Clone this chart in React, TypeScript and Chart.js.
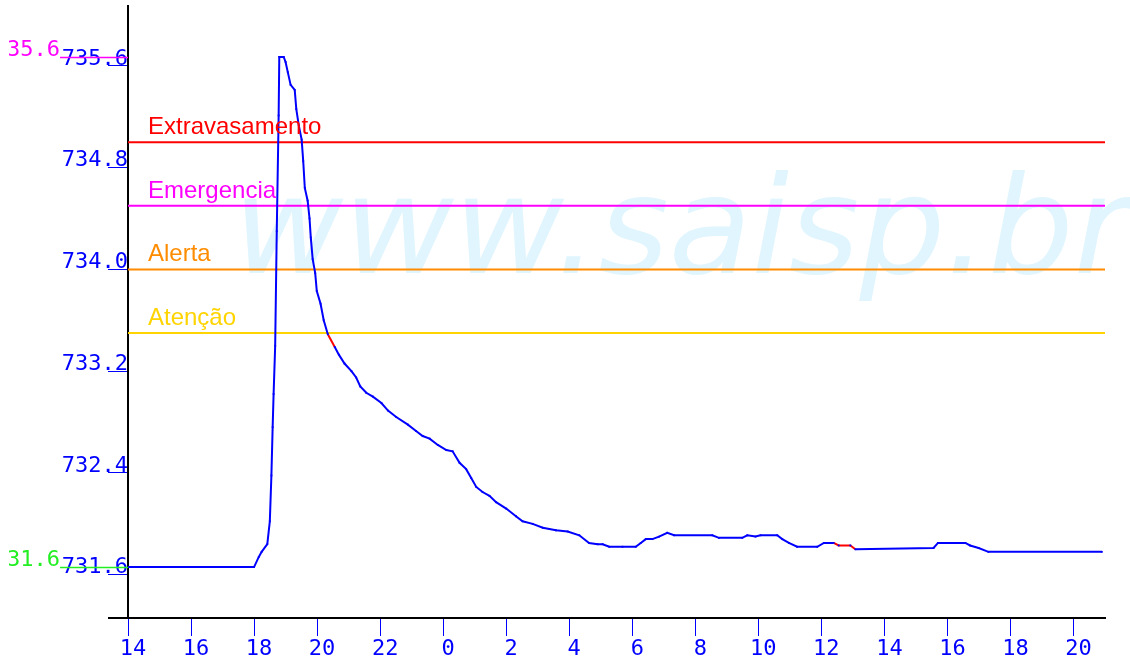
import React, { useEffect, useRef } from "react";
import { Chart, registerables } from "chart.js";

Chart.register(...registerables);

// Time in hours since 00:00 of the first day (24+ = next day)
const hours = [
  14.0, 15.0, 16.0, 17.0, 18.0, 18.15, 18.24, 18.42, 18.5, 18.55, 18.59, 18.62, 18.67, 18.72, 18.78, 18.8,
  18.94, 19.0, 19.07, 19.16, 19.29, 19.34, 19.42, 19.51, 19.56, 19.61, 19.7, 19.76, 19.8, 19.86, 19.94,
  19.99, 20.11, 20.21, 20.34, 20.56, 20.69, 20.87, 21.09, 21.24, 21.37, 21.56, 21.77, 22.04, 22.25, 22.51,
  22.88, 23.14, 23.35, 23.57, 23.83, 24.1, 24.3, 24.52, 24.73, 24.89, 25.05, 25.25, 25.47, 25.68, 26.0,
  26.31, 26.52, 26.84, 27.16, 27.58, 27.95, 28.32, 28.63, 28.9, 29.06, 29.27, 29.69, 30.11, 30.27, 30.43,
  30.64, 30.85, 31.11, 31.33, 32.54, 32.75, 33.49, 33.65, 33.91, 34.07, 34.6, 34.76, 34.97, 35.23, 35.87,
  36.08, 36.39, 36.55, 36.92, 37.08, 39.56, 39.7, 40.57, 40.72, 40.99, 41.3, 44.9,
];

const levels = [
  731.66, 731.66, 731.66, 731.66, 731.66, 731.74, 731.78, 731.84, 732.02, 732.38, 732.76, 733.02, 733.4,
  734.3, 735.21, 735.67, 735.67, 735.63, 735.55, 735.45, 735.41, 735.26, 735.13, 735.02, 734.85, 734.64,
  734.54, 734.4, 734.25, 734.08, 733.97, 733.83, 733.73, 733.6, 733.49, 733.39, 733.33, 733.26, 733.2,
  733.15, 733.08, 733.03, 733.0, 732.95, 732.89, 732.84, 732.78, 732.73, 732.69, 732.67, 732.62, 732.58,
  732.57, 732.48, 732.43, 732.36, 732.29, 732.25, 732.22, 732.17, 732.12, 732.06, 732.02, 732.0, 731.97,
  731.95, 731.94, 731.91, 731.85, 731.84, 731.84, 731.82, 731.82, 731.82, 731.85, 731.88, 731.88, 731.9,
  731.93, 731.91, 731.91, 731.89, 731.89, 731.91, 731.9, 731.91, 731.91, 731.88, 731.85, 731.82, 731.82,
  731.85, 731.85, 731.83, 731.83, 731.8, 731.81, 731.85, 731.85, 731.83, 731.81, 731.78, 731.78,
];

// Stretches drawn in red (estimated data)
const estimatedRanges = [
  [20.34, 20.56],
  [36.39, 37.08],
];

const thresholdNames = ["Extravasamento", "Emergencia", "Alerta", "Atenção"];
const thresholdValues = [735.0, 734.5, 734.0, 733.5];
const thresholdColors = ["#ff0000", "#ff00ff", "#ff8c00", "#ffd400"];

const yTickValues = [731.6, 732.4, 733.2, 734.0, 734.8, 735.6];
const xTickHours = [14, 16, 18, 20, 22, 24, 26, 28, 30, 32, 34, 36, 38, 40, 42, 44];
const xStart = 14;
const xEnd = 45;
const watermark = "www.saisp.br";

const BLUE = "#0000ff";
const MONO = "'DejaVu Sans Mono', monospace";

const levelMax = Math.max(...levels);
const levelMin = Math.min(...levels);
const trunc1 = (v: number) => (Math.floor(v * 10 + 1e-6) / 10).toFixed(1);

const overlay = {
  id: "overlay",
  beforeDatasetsDraw(chart: any) {
    const { ctx, chartArea } = chart;
    ctx.save();
    ctx.font = "italic 135px 'DejaVu Sans'";
    ctx.fillStyle = "rgb(224,245,253)";
    ctx.textBaseline = "alphabetic";
    ctx.textAlign = "left";
    ctx.fillText(watermark, chartArea.left + 105, 273);
    ctx.restore();
  },
  afterDatasetsDraw(chart: any) {
    const { ctx, chartArea, scales } = chart;
    ctx.save();
    ctx.font = "24px 'Liberation Sans'";
    ctx.textBaseline = "alphabetic";
    ctx.textAlign = "left";
    thresholdNames.forEach((name, i) => {
      const y = scales.y.getPixelForValue(thresholdValues[i]);
      ctx.fillStyle = thresholdColors[i];
      ctx.fillText(name, chartArea.left + 20, y - 8);
    });
    ctx.restore();
  },
  afterDraw(chart: any) {
    const { ctx, chartArea, scales } = chart;
    ctx.save();
    // x-axis line extension to the left of the y axis
    ctx.strokeStyle = "#000";
    ctx.lineWidth = 2;
    ctx.beginPath();
    ctx.moveTo(chartArea.left - 20, chartArea.bottom);
    ctx.lineTo(chartArea.left, chartArea.bottom);
    ctx.stroke();
    // max / min markers
    const marks = [
      { v: levelMax, color: "#ff00ff" },
      { v: levelMin, color: "#22ee22" },
    ];
    ctx.font = `22px ${MONO}`;
    ctx.textAlign = "right";
    ctx.textBaseline = "alphabetic";
    marks.forEach((m) => {
      const y = Math.round(scales.y.getPixelForValue(m.v)) + 0.5;
      ctx.strokeStyle = m.color;
      ctx.lineWidth = 1.5;
      ctx.beginPath();
      ctx.moveTo(chartArea.left - 68, y);
      ctx.lineTo(chartArea.left, y);
      ctx.stroke();
      ctx.save();
      ctx.beginPath();
      ctx.rect(9, y - 40, chartArea.left, 50);
      ctx.clip();
      ctx.fillStyle = m.color;
      ctx.fillText(trunc1(m.v), chartArea.left - 68, y - 2);
      ctx.restore();
    });
    ctx.restore();
  },
};

export default function App() {
  const ref = useRef<HTMLCanvasElement>(null);

  useEffect(() => {
    const isEstimated = (a: number, b: number) =>
      estimatedRanges.some(([s, e]) => a >= s - 1e-6 && b <= e + 1e-6);

    const datasets: any[] = [
      {
        label: "Nível",
        data: hours.map((h, i) => ({ x: h, y: levels[i] })),
        borderColor: BLUE,
        backgroundColor: BLUE,
        borderWidth: 2,
        pointRadius: 1.3,
        pointStyle: "rect",
        pointBorderWidth: 0,
        pointBackgroundColor: BLUE,
        tension: 0,
        segment: {
          borderColor: (c: any) => (isEstimated(c.p0.parsed.x, c.p1.parsed.x) ? "#ff0000" : undefined),
        },
      },
      ...thresholdNames.map((name, i) => ({
        label: name,
        data: [
          { x: xStart, y: thresholdValues[i] },
          { x: xEnd, y: thresholdValues[i] },
        ],
        borderColor: thresholdColors[i],
        borderWidth: 2,
        pointRadius: 0,
      })),
    ];

    const chart = new Chart(ref.current as HTMLCanvasElement, {
      type: "line",
      data: { datasets },
      options: {
        responsive: false,
        animation: false,
        devicePixelRatio: 1,
        events: [],
        layout: { padding: { left: 0, top: 6, right: 25, bottom: 0 }, autoPadding: false },
        plugins: {
          legend: { display: false },
          tooltip: { enabled: false },
          title: { display: false },
        },
        scales: {
          x: {
            type: "linear",
            min: xStart,
            max: xEnd,
            afterBuildTicks: (s: any) => {
              s.ticks = xTickHours.map((v) => ({ value: v }));
            },
            afterFit: (s: any) => {
              s.height = 47;
            },
            border: { color: "#000", width: 2 },
            grid: { drawOnChartArea: false, color: BLUE, tickLength: 18, lineWidth: 1 },
            ticks: {
              color: BLUE,
              font: { family: MONO, size: 22 },
              padding: 0,
              labelOffset: 5,
              maxRotation: 0,
              autoSkip: false,
              callback: (v: any) => String(Number(v) % 24),
            },
          },
          y: {
            type: "linear",
            min: levelMin - 0.4,
            max: levelMax + 0.4,
            afterBuildTicks: (s: any) => {
              s.ticks = yTickValues.map((v) => ({ value: v }));
            },
            afterFit: (s: any) => {
              s.width = 128;
            },
            border: { color: "#000", width: 2 },
            grid: { drawOnChartArea: false, color: BLUE, tickLength: 20, lineWidth: 1 },
            ticks: {
              color: BLUE,
              font: { family: MONO, size: 22 },
              padding: -20,
              labelOffset: -7,
              autoSkip: false,
              callback: (v: any) => Number(v).toFixed(1),
            },
          },
        },
      } as any,
      plugins: [overlay],
    });
    return () => chart.destroy();
  }, []);

  return (
    <div style={{ position: "absolute", left: 0, top: 0, width: 1130, height: 665, background: "#fff" }}>
      <canvas ref={ref} width={1130} height={665} style={{ display: "block" }} />
    </div>
  );
}
